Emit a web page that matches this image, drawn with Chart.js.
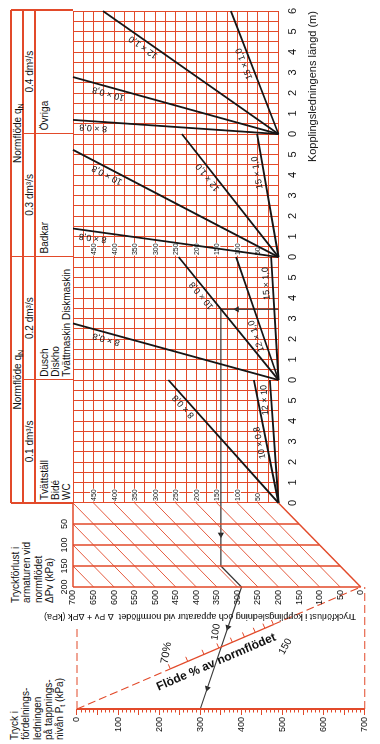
<!DOCTYPE html>
<html><head><meta charset="utf-8"><title>Nomogram kopplingsledning</title>
<script src="https://cdn.jsdelivr.net/npm/chart.js@4.4.1/dist/chart.umd.min.js"></script>
<style>
html,body{margin:0;padding:0;background:#fff;width:380px;height:744px;overflow:hidden}
#land{position:absolute;left:0;top:0;width:744px;height:380px;transform-origin:0 0;transform:translateY(744px) rotate(-90deg);font-family:"Liberation Sans",Arial,Helvetica,sans-serif;color:#111}
#land canvas{position:absolute;left:0;top:0}
.ln{position:absolute;background:#e24a2a}
.tx{position:absolute;white-space:nowrap;font-size:10px;line-height:11px}
.blk{position:absolute;white-space:nowrap;font-size:10px}
sub{font-size:7px;vertical-align:-2px;line-height:0}
</style></head><body>
<div id="land">
 <div id="hdr"></div>
 <div class="blk" style="left:141px;top:10px;line-height:11.4px">Tryckförlust i<br>armaturen vid<br>normflödet<br>ΔPv (kPa)</div>
 <div class="blk" style="left:4px;top:9px;line-height:11.3px">Tryck i<br>fördelnings-<br>ledningen<br>på tappnings-<br>nivån P<sub>t</sub> (kPa)</div>
 <canvas id="cA" width="744" height="380"></canvas>
 <canvas id="cB" width="744" height="380"></canvas>
 <canvas id="cT" width="744" height="380"></canvas>
</div>
<script>
// ================= DATA =================
const panelNames   = ['WC', 'Dusch', 'Badkar', 'Övriga'];
const flowRates    = ['0.1 dm³/s', '0.2 dm³/s', '0.3 dm³/s', '0.4 dm³/s'];
const fixtureLists = [['Tvättställ', 'Bidé', 'WC'], ['Dusch', 'Diskho', 'Tvättmaskin Diskmaskin'], ['Badkar'], ['Övriga']];
const headerTitle  = 'Normflöde q';
const panelLength  = 6;                 // m per panel
const lengthLabels = ['0', '1', '2', '3', '4', '5'];
const lastLengthLabel = '6';

// pipe lines: end point of each line (length m, kPa)
const wcPipes      = ['8 × 0,8', '10 × 0,8', '12 × 10'];
const wcEndLen     = [6, 6, 6];
const wcEndKPa     = [268, 60, 21];
const duschPipes   = ['8 × 0,8', '10 × 0,8', '12 × 1,0', '15 × 1,0'];
const duschEndLen  = [2.76, 6, 6, 6];
const duschEndKPa  = [500, 243, 103, 18];
const badkarPipes  = ['8 × 0,8', '10 × 0,8', '12 × 1,0', '15 × 1,0'];
const badkarEndLen = [1.39, 5.23, 6, 6];
const badkarEndKPa = [500, 500, 235, 52];
const ovrigaPipes  = ['8 × 0,8', '10 × 0,8', '12 × 1,0', '15 × 1,0'];
const ovrigaEndLen = [0.69, 2.78, 6, 6];
const ovrigaEndKPa = [500, 500, 427, 116];

const gridKPaLabels = [50, 100, 150, 200, 250, 300, 350, 400, 450];
const dPvRows       = [50, 100, 150, 200];
const dPvTicks      = [50, 100, 150, 200];
const totalTicks    = [0, 50, 100, 150, 200, 250, 300, 350, 400, 450, 500, 550, 600, 650, 700];
const hatchTotals   = [50, 100, 150, 200, 250, 300, 350, 400, 450, 500, 550, 600, 650];
const ptLabels      = [0, 100, 200, 300, 400, 500, 600, 700];
const flowTicks     = [70, 80, 90, 100, 110, 120, 130, 140, 150];
const flowLabelVals = [70, 100, 150];
const flowLabelText = ['70%', '100', '150'];

// worked example
const exPanel = 1, exLength = 3.45, exDPk = 140, exDPv = 150, exPt = 300;

// ================= STYLE / LAYOUT =================
const RED = '#e24a2a', INK = '#151515', PATH = '#3a3a3a';
const FONT = '"Liberation Sans", Arial, Helvetica, sans-serif';
Chart.defaults.font.family = FONT;
Chart.defaults.color = '#111';
const GRID_L = 241, GRID_R = 734, GRID_T = 73, GRID_B = 278.5;
const PX_PER_KPA = (GRID_B - GRID_T) / 500;
const kpaAtY = Y => (GRID_B - Y) / PX_PER_KPA;
const panelX = [0, 1, 2, 3, 4].map(i => GRID_L + i * (GRID_R - GRID_L) / 4);
const wcLabelAt = [0.82, 0.5, 0.84], duschLabelAt = [0.83, 0.72, 0.375, 0.787],
      badkarLabelAt = [0.9, 0.82, 0.68, 0.695], ovrigaLabelAt = [0.9, 0.82, 0.75, 0.59];
const kpaLabelPanels = [0, 2];

// ---------- header (HTML text) ----------
const hdr = document.getElementById('hdr');
function add(cls, css, html) { const d = document.createElement('div'); d.className = cls; d.style.cssText = css; if (html) d.innerHTML = html; hdr.appendChild(d); }
const LW = 1.2;
[11, 23, 35].forEach(Y => add('ln', `left:${GRID_L}px;top:${Y - LW/2}px;width:${GRID_R - GRID_L}px;height:${LW}px`));
[panelX[0], panelX[2], panelX[4]].forEach(X => add('ln', `left:${X - LW/2}px;top:11px;width:${LW}px;height:62px`));
[panelX[1], panelX[3]].forEach(X => add('ln', `left:${X - LW/2}px;top:23px;width:${LW}px;height:50px`));
[0, 2].forEach(i => add('tx', `left:${panelX[i]}px;width:${panelX[i+2]-panelX[i]}px;top:12px;text-align:center`, headerTitle + '<sub>N</sub>'));
flowRates.forEach((t, i) => add('tx', `left:${panelX[i]}px;width:${panelX[i+1]-panelX[i]}px;top:24px;text-align:center`, t));
fixtureLists.forEach((l, i) => add('tx', `left:${panelX[i] + 3}px;top:38.5px`, l.join('<br>')));

// ---------- Chart A : length / pressure-loss grid ----------
const panels = [
  {pipes: wcPipes, len: wcEndLen, kpa: wcEndKPa, at: wcLabelAt},
  {pipes: duschPipes, len: duschEndLen, kpa: duschEndKPa, at: duschLabelAt},
  {pipes: badkarPipes, len: badkarEndLen, kpa: badkarEndKPa, at: badkarLabelAt},
  {pipes: ovrigaPipes, len: ovrigaEndLen, kpa: ovrigaEndKPa, at: ovrigaLabelAt}
];
const lineSets = [], lineInfo = [];
panels.forEach((p, i) => p.pipes.forEach((name, j) => {
  const x0 = i * panelLength;
  lineSets.push({label: name, data: [{x: x0, y: 0}, {x: x0 + p.len[j], y: p.kpa[j]}],
    showLine: true, borderColor: INK, borderWidth: 1.8, pointRadius: 0, clip: false});
  lineInfo.push({name, x0, len: p.len[j], kpa: p.kpa[j], at: p.at[j]});
}));
const exX = exPanel * panelLength + exLength;
const pathA = {data: [{x: exX, y: 0}, {x: exX, y: exDPk}, {x: 0, y: exDPk}], showLine: true,
  borderColor: PATH, borderWidth: 1.2, pointRadius: 0, clip: false};
const arrowA = {data: [{x: exX, y: exDPk * 0.72}], pointStyle: 'triangle', pointRadius: 3.6,
  pointRotation: 0, backgroundColor: '#222', borderColor: '#222', borderWidth: 0};

const gridXTicks = [], gridYTicks = [];
for (let v = 0; v <= 4 * panelLength + 1e-9; v += 0.5) gridXTicks.push(v);
for (let v = 0; v <= 500; v += 25) gridYTicks.push(v);

const labelsA = {
  id: 'labelsA',
  beforeDatasetsDraw(chart) {
    const {ctx, scales: {x, y}} = chart;
    ctx.save();
    ctx.font = '7px ' + FONT; ctx.textBaseline = 'middle'; ctx.textAlign = 'left';
    kpaLabelPanels.forEach(pi => {
      const X = x.getPixelForValue(pi * panelLength) + 2;
      gridKPaLabels.forEach(v => {
        const Y = y.getPixelForValue(v), s = String(v), w = ctx.measureText(s).width;
        ctx.fillStyle = '#fff'; ctx.fillRect(X - 0.5, Y - 3.5, w + 1, 7);
        ctx.fillStyle = '#111'; ctx.fillText(s, X, Y + 0.5);
      });
    });
    ctx.restore();
  },
  afterDatasetsDraw(chart) {
    const {ctx, scales: {x, y}} = chart;
    ctx.save();
    ctx.font = '9px ' + FONT; ctx.fillStyle = '#111'; ctx.textAlign = 'center'; ctx.textBaseline = 'middle';
    lineInfo.forEach(L => {
      const X0 = x.getPixelForValue(L.x0), Y0 = y.getPixelForValue(0);
      const X1 = x.getPixelForValue(L.x0 + L.len), Y1 = y.getPixelForValue(L.kpa);
      const a = Math.atan2(Y1 - Y0, X1 - X0);
      const nx = Math.sin(a), ny = -Math.cos(a);
      const px = X0 + (X1 - X0) * L.at + nx * 6.5, py = Y0 + (Y1 - Y0) * L.at + ny * 6.5;
      ctx.save(); ctx.translate(px, py); ctx.rotate(a); ctx.fillText(L.name, 0, 0); ctx.restore();
    });
    ctx.restore();
  }
};

new Chart(document.getElementById('cA'), {
  type: 'scatter',
  data: {datasets: lineSets.concat([pathA, arrowA])},
  options: {
    responsive: false, animation: false, events: [],
    layout: {padding: {left: GRID_L, right: 744 - GRID_R, top: GRID_T, bottom: 380 - GRID_B - 45}},
    plugins: {legend: {display: false}, tooltip: {enabled: false}},
    scales: {
      x: {type: 'linear', min: 0, max: 4 * panelLength, position: 'bottom',
        afterBuildTicks: s => { s.ticks = gridXTicks.map(v => ({value: v})); },
        ticks: {autoSkip: false, maxRotation: 0, padding: 8, font: {size: 11},
          callback: v => Number.isInteger(v) ? (v === 4 * panelLength ? lastLengthLabel : lengthLabels[v % panelLength]) : ''},
        grid: {color: RED, lineWidth: 1, drawTicks: false}, border: {display: false},
        title: {display: true, text: 'Kopplingsledningens längd (m)', align: 'end', font: {size: 11}, padding: {top: 0, bottom: 4}},
        afterFit: s => { s.height = 45; }},
      y: {type: 'linear', min: 0, max: 500, position: 'left',
        afterBuildTicks: s => { s.ticks = gridYTicks.map(v => ({value: v})); },
        ticks: {display: false}, grid: {color: RED, lineWidth: 1, drawTicks: false}, border: {display: false},
        afterFit: s => { s.width = 0; }}
    }
  },
  plugins: [labelsA]
});

// ---------- Chart B : valve loss parallelogram + flow Z-nomogram + Pt axis ----------
const B_LEFT = 35, B_RIGHT = GRID_L, ROW200_X = 157, B_BOTTOM = 371;
const DPV_PX = (B_RIGHT - ROW200_X) / 200;
const XMAX_B = (B_RIGHT - B_LEFT) / DPV_PX;
const YMIN_B = kpaAtY(B_BOTTOM);
const PT0 = kpaAtY(77);                     // y value where Pt = 0
const ptToY = p => PT0 - p;
const totToY = t => t - 200;                 // total scale on the ΔPv = 200 row
const flowA = {x: XMAX_B, y: ptToY(0)}, flowB = {x: 200, y: totToY(0)};
const flowPoint = f => { const r = (f / 100) ** 2, t = r / (1 + r);
  return {x: flowA.x + t * (flowB.x - flowA.x), y: flowA.y + t * (flowB.y - flowA.y)}; };
const redLine = (data, w, dash) => ({data, showLine: true, borderColor: RED, borderWidth: w, borderDash: dash || [], pointRadius: 0, clip: false});

const setsB = [];
dPvRows.forEach(v => setsB.push(redLine([{x: v, y: 500}, {x: v, y: -v}], 1.5)));
setsB.push(redLine([{x: 0, y: 500}, {x: 200, y: 500}], 1.5));
setsB.push(redLine([{x: 0, y: 0}, {x: 200, y: -200}], 1.5));
hatchTotals.forEach(T => setsB.push(redLine([{x: Math.max(0, T - 500), y: Math.min(T, 500)}, {x: 200, y: totToY(T)}], 0.9)));
// flow scale
const f70 = flowPoint(flowTicks[0]), f150 = flowPoint(flowTicks[flowTicks.length - 1]);
setsB.push(redLine([flowA, f70], 1.1, [8, 4]));
setsB.push(redLine([f70, f150], 1.3));
setsB.push(redLine([f150, flowB], 1.1, [8, 4]));
// frame dashes
setsB.push(redLine([{x: XMAX_B, y: ptToY(0)}, {x: 295, y: ptToY(0)}], 1.1, [8, 4]));
setsB.push(redLine([{x: XMAX_B, y: ptToY(700)}, {x: 200, y: ptToY(700)}], 1.1, [8, 4]));
// Pt axis line
setsB.push(redLine([{x: XMAX_B, y: ptToY(0)}, {x: XMAX_B, y: ptToY(700)}], 2));
// example path
const exT = exDPk + exDPv;
const tPt = {x: 200, y: totToY(exT)}, pPt = {x: XMAX_B, y: ptToY(exPt)};
setsB.push({data: [{x: 0, y: exDPk}, {x: exDPv, y: exDPk}, tPt, pPt], showLine: true, borderColor: PATH, borderWidth: 1.2, pointRadius: 0, clip: false});
const along = (p, q, s) => ({x: p.x + s * (q.x - p.x), y: p.y + s * (q.y - p.y)});
setsB.push({data: [{x: exDPv * 0.5, y: exDPk}, along(tPt, pPt, 0.33), along(tPt, pPt, 0.83)],
  pointStyle: 'triangle', pointRadius: 3.6, backgroundColor: '#222', borderWidth: 0, clip: false,
  pointRotation: ctx => {
    const {x, y} = ctx.chart.scales;
    if (ctx.dataIndex === 0) return -90;
    const dx = x.getPixelForValue(pPt.x) - x.getPixelForValue(tPt.x), dy = y.getPixelForValue(pPt.y) - y.getPixelForValue(tPt.y);
    return Math.atan2(dx, -dy) * 180 / Math.PI;
  }});

const ptMinor = [];
for (let v = 0; v <= 700; v += 10) ptMinor.push(v);

const labelsB = {
  id: 'labelsB',
  afterDatasetsDraw(chart) {
    const {ctx, scales: {x, y}} = chart;
    const P = p => ({X: x.getPixelForValue(p.x), Y: y.getPixelForValue(p.y)});
    const a = P(flowA), b = P(flowB);
    const ang = Math.atan2(b.Y - a.Y, b.X - a.X);
    const nx = Math.sin(ang), ny = -Math.cos(ang);
    ctx.save();
    ctx.strokeStyle = RED; ctx.lineWidth = 1;
    flowTicks.forEach(f => { const q = P(flowPoint(f)); ctx.beginPath(); ctx.moveTo(q.X, q.Y); ctx.lineTo(q.X + nx * 5, q.Y + ny * 5); ctx.stroke(); });
    ctx.fillStyle = '#111'; ctx.textAlign = 'center'; ctx.textBaseline = 'middle';
    const offs = [[16, -4, 0.17], [16, -3, 0.17], [-22, 12, 0.5]];
    flowLabelVals.forEach((f, i) => {
      const q = P(flowPoint(f));
      ctx.save(); ctx.translate(q.X + offs[i][0], q.Y + offs[i][1]); ctx.rotate(offs[i][2]);
      ctx.font = (i === 0 ? '11px ' : '10px ') + FONT; ctx.fillText(flowLabelText[i], 0, 0); ctx.restore();
    });
    const m = {X: a.X + (b.X - a.X) * 0.474 - nx * 12, Y: a.Y + (b.Y - a.Y) * 0.474 - ny * 12};
    ctx.save(); ctx.translate(m.X, m.Y); ctx.rotate(ang);
    ctx.font = 'bold 12px ' + FONT; ctx.fillText('Flöde % av normflödet', 0, 0); ctx.restore();
    ctx.restore();
  }
};

new Chart(document.getElementById('cB'), {
  type: 'scatter',
  data: {datasets: setsB},
  options: {
    responsive: false, animation: false, events: [],
    layout: {padding: {left: 0, right: 744 - B_RIGHT, top: GRID_T - 20, bottom: 380 - B_BOTTOM}},
    plugins: {legend: {display: false}, tooltip: {enabled: false}},
    scales: {
      x: {type: 'linear', min: 0, max: XMAX_B, reverse: true, position: 'top',
        afterBuildTicks: s => { s.ticks = dPvTicks.map(v => ({value: v})); },
        ticks: {autoSkip: false, maxRotation: 0, padding: 3, font: {size: 9}},
        grid: {display: false, drawTicks: false}, border: {display: false},
        afterFit: s => { s.height = 20; }},
      y: {type: 'linear', display: false, min: YMIN_B, max: 500},
      yp: {type: 'linear', position: 'left', reverse: true, min: PT0 - 500, max: PT0 - YMIN_B,
        afterBuildTicks: s => { s.ticks = ptMinor.map(v => ({value: v})); },
        ticks: {autoSkip: false, padding: 2, font: {size: 9},
          callback: v => ptLabels.includes(v) ? String(v) : ''},
        grid: {drawOnChartArea: false, color: RED, tickLength: 6, tickWidth: 1,
          tickBorderDash: ctx => (ctx.tick && ctx.tick.value % 50 === 0) ? [] : [0, 2.5, 3.5, 50]},
        border: {display: false},
        afterFit: s => { s.width = B_LEFT; }}
    }
  },
  plugins: [labelsB]
});

// ---------- Chart T : total loss axis (ΔPv + ΔPk) ----------
const T_TOP = 35, T_BOTTOM = 365, T_AXIS_W = 42;
new Chart(document.getElementById('cT'), {
  type: 'scatter',
  data: {datasets: []},
  options: {
    responsive: false, animation: false, events: [],
    layout: {padding: {left: ROW200_X - T_AXIS_W, right: 744 - B_RIGHT, top: T_TOP, bottom: 380 - T_BOTTOM}},
    plugins: {legend: {display: false}, tooltip: {enabled: false}},
    scales: {
      x: {type: 'linear', display: false, min: 0, max: 200, reverse: true},
      y: {type: 'linear', position: 'left', min: kpaAtY(T_BOTTOM), max: kpaAtY(T_TOP),
        afterBuildTicks: s => { s.ticks = totalTicks.map(t => ({value: totToY(t)})); },
        ticks: {autoSkip: false, padding: 3, font: {size: 9}, callback: v => String(Math.round(v + 200))},
        grid: {display: false, drawTicks: false}, border: {display: false},
        title: {display: true, text: 'Tryckförlust i kopplingsledning och apparatur vid normflödet  Δ Pv + ΔPk (kPa)',
          font: {size: 9}, padding: {top: 7, bottom: 0}},
        afterFit: s => { s.width = T_AXIS_W; }}
    }
  }
});
</script>
</body></html>
